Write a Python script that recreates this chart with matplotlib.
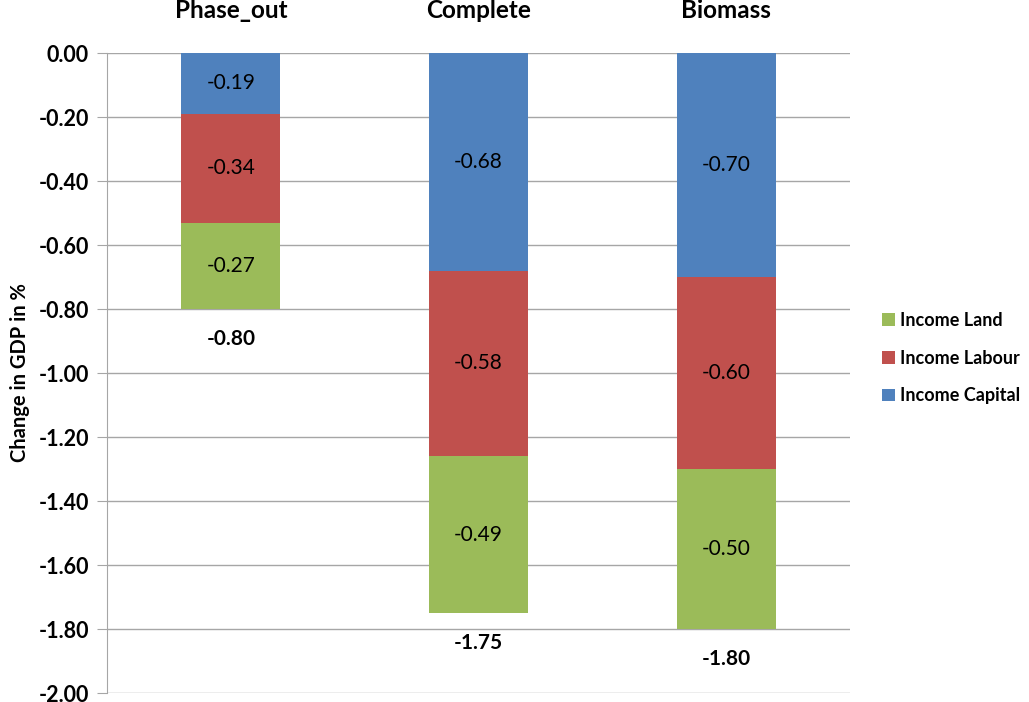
import numpy as np
import matplotlib.pyplot as plt

plt.rcParams['font.family'] = ['Lato', 'DejaVu Sans']

scenarios = ['Phase_out', 'Complete', 'Biomass']
income_capital = np.array([-0.19, -0.68, -0.70])
income_labour = np.array([-0.34, -0.58, -0.60])
income_land = np.array([-0.27, -0.49, -0.50])

col_capital = '#4F81BD'
col_labour = '#C0504D'
col_land = '#9BBB59'
grid_col = '#A6A6A6'

fig = plt.figure(figsize=(10.29, 7.02), dpi=100)
ax = fig.add_axes([0.104, 0.0128, 0.722, 0.9117])

x = np.arange(len(scenarios))
w = 0.4

b_cap = ax.bar(x, income_capital, w, color=col_capital, label='Income Capital', zorder=3)
b_lab = ax.bar(x, income_labour, w, bottom=income_capital, color=col_labour,
               label='Income Labour', zorder=3)
b_land = ax.bar(x, income_land, w, bottom=income_capital + income_labour, color=col_land,
                label='Income Land', zorder=3)

for bars in (b_cap, b_lab, b_land):
    ax.bar_label(bars, labels=[f'{v:.2f}' for v in bars.datavalues], label_type='center',
                 fontsize=15, color='black')

# totals below each stack
totals = income_capital + income_labour + income_land
for xi, t in zip(x, totals):
    ax.text(xi, t - 0.095, f'{t:.2f}', ha='center', va='center', fontsize=15,
            fontweight='bold')

yticks = np.round(np.arange(-2.0, 0.01, 0.2), 2) + 0.0
ax.set_xlim(-0.5, 2.5)
ax.set_ylim(-2.0, 0.0)
ax.set_yticks(yticks)
ax.set_yticklabels([f'{v:.2f}' for v in yticks])
ax.grid(axis='y', color=grid_col, linewidth=1, zorder=0)

ax.xaxis.tick_top()
ax.set_xticks(x)
ax.set_xticklabels(scenarios, fontsize=17.5, fontweight='bold')
ax.tick_params(axis='x', length=0, pad=22)
ax.tick_params(axis='y', length=7, color=grid_col, labelsize=15.5, pad=6)
for lbl in ax.get_yticklabels():
    lbl.set_fontweight('bold')

for side in ('top', 'right', 'bottom'):
    ax.spines[side].set_visible(False)
ax.spines['left'].set_color(grid_col)

ax.set_ylabel('Change in GDP in %', fontsize=14.5, fontweight='bold', labelpad=6)

handles = [b_land, b_lab, b_cap]
fig.legend(handles, [h.get_label() for h in handles], loc='center left',
           bbox_to_anchor=(0.845, 0.49), frameon=False, handlelength=0.7, handleheight=0.7,
           handletextpad=0.3, labelspacing=1.15, borderpad=0.2,
           prop={'weight': 'bold', 'size': 13})

fig.savefig('out.png', dpi=100)
